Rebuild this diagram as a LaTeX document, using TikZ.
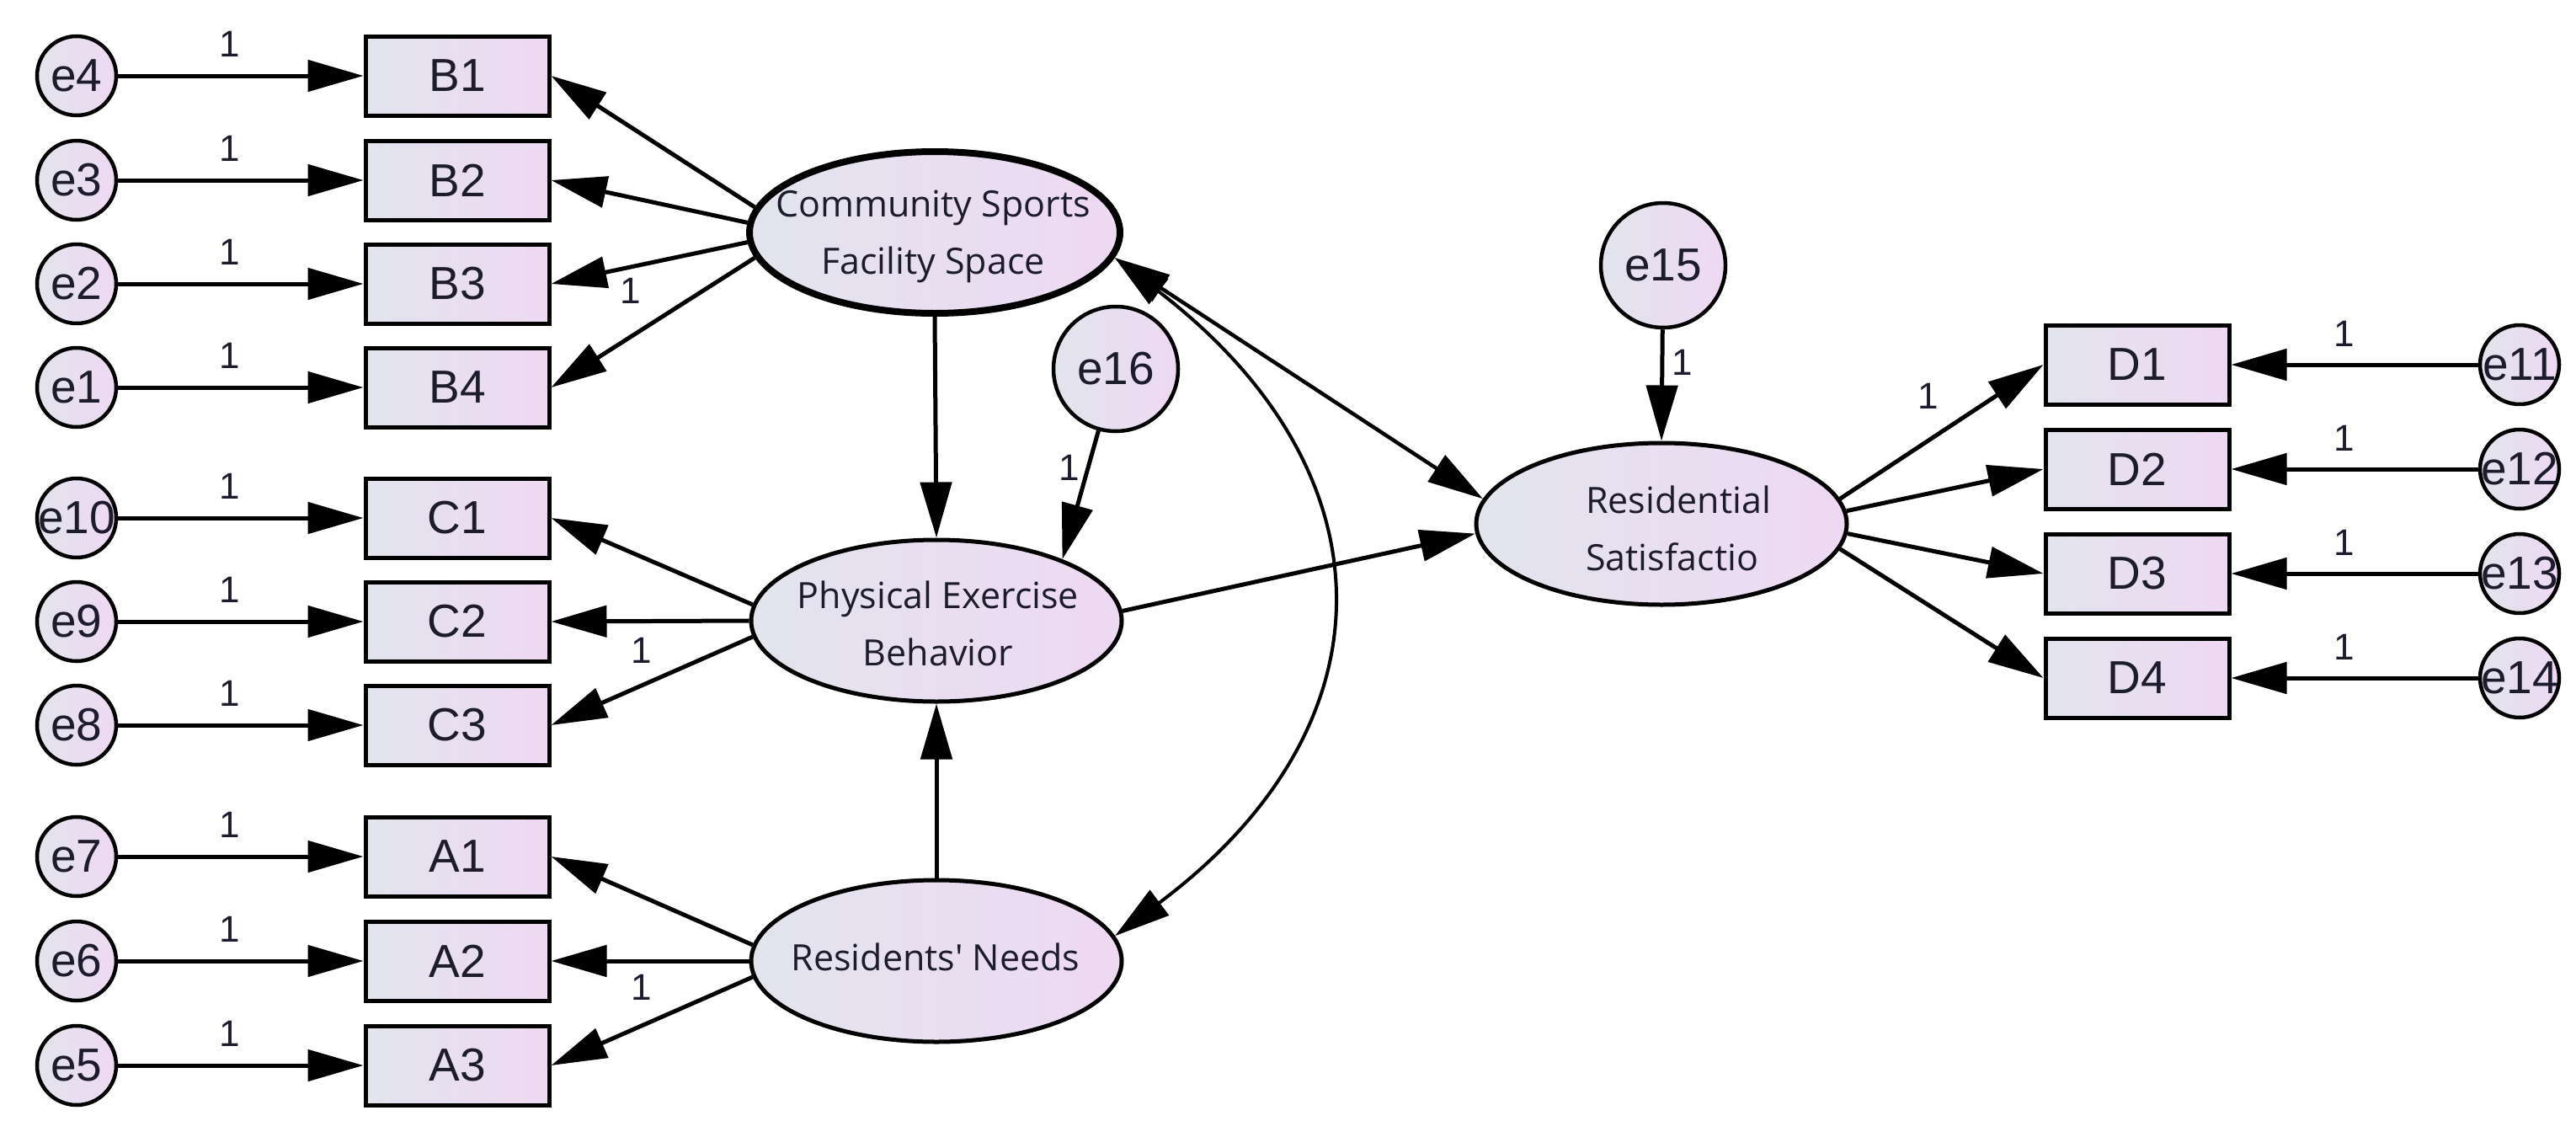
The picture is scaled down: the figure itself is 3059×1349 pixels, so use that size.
\documentclass[tikz,border=0pt]{standalone}
\usepackage{fontspec}
\setmainfont{Liberation Sans}
\newfontfamily\latfont{Open Sans}
\usetikzlibrary{arrows.meta,shapes.geometric,calc}
\definecolor{fillL}{RGB}{226,228,238}
\definecolor{fillR}{RGB}{238,217,242}
\definecolor{ink}{RGB}{28,28,45}
\begin{document}
\begin{tikzpicture}[x=1pt,y=-1pt,
  obs/.style={draw=black, line width=5pt, rectangle, minimum width=218pt, minimum height=94pt, inner sep=0pt, left color=fillL, right color=fillR, text=ink, font=\fontsize{55}{55}\selectfont},
  err/.style={draw=black, line width=4.5pt, ellipse, minimum width=94pt, minimum height=94pt, inner sep=0pt, left color=fillL, right color=fillR},
  bigerr/.style={err, minimum width=148pt, minimum height=148pt},
  lat/.style={draw=black, line width=5pt, ellipse, minimum width=440pt, minimum height=192pt, inner sep=0pt, left color=fillL, right color=fillR},
  elab/.style={text=ink, font=\fontsize{55}{55}\selectfont, inner sep=0pt},
  latlab/.style={text=ink, font=\latfont\fontsize{43}{68}\selectfont, align=center, inner sep=0pt},
  one/.style={text=ink, font=\fontsize{44}{44}\selectfont, inner sep=0pt},
  arr/.style={line width=5pt, -{Triangle[length=66pt,width=37pt]}},
  dbl/.style={line width=4.5pt, {Triangle[length=66pt,width=37pt]}-{Triangle[length=66pt,width=37pt]}},
]
\useasboundingbox (0,0) rectangle (3059,1349);

% latent variables
\node[lat, line width=8pt] (CS) at (1110,276) {};
\node[lat] (PE) at (1112,737) {};
\node[lat] (RN) at (1112,1141) {};
\node[lat] (RS) at (1973,622) {};
\node[latlab] (tCS) at (1108,281) {Community Sports\\Facility Space};
\node[latlab] (tPE) at (1114,740) {Physical Exercise\\Behavior};
\node[latlab] (tRN) at (1111,1136) {Residents' Needs};
\node[latlab, align=left, anchor=west] (tRS) at (1883,627) {Residential\\Satisfactio};

% observed boxes, left
\foreach \n/\y in {B1/90,B2/214,B3/337,B4/460,C1/615,C2/738,C3/861,A1/1017,A2/1141,A3/1265}{
  \node[obs] (\n) at (543,\y) {\n};
}
% observed boxes, right
\foreach \n/\y in {D1/433,D2/557,D3/681,D4/805}{
  \node[obs] (\n) at (2538,\y) {\n};
}
% error terms, left
\foreach \e/\y in {e4/90,e3/214,e2/337,e1/460,e10/615,e9/738,e8/861,e7/1017,e6/1141,e5/1265}{
  \node[err] (\e) at (91,\y) {};
  \node[elab] (t\e) at (91,\y) {\e};
}
% error terms, right
\foreach \e/\y in {e11/433,e12/557,e13/681,e14/805}{
  \node[err] (\e) at (2992,\y) {};
  \node[elab] (t\e) at (2992,\y) {\e};
}
\node[bigerr] (e16) at (1325,438) {};
\node[elab] (te16) at (1325,438) {e16};
\node[bigerr] (e15) at (1975,315) {};
\node[elab] (te15) at (1975,315) {e15};

% error -> indicator arrows with labels
\foreach \e/\n/\y in {e4/B1/90,e3/B2/214,e2/B3/337,e1/B4/460,e10/C1/615,e9/C2/738,e8/C3/861,e7/A1/1017,e6/A2/1141,e5/A3/1265}{
  \draw[arr] (\e) -- (\n);
  \node[one] (o\e) at (273,\y-38) {1};
}
\foreach \e/\n/\y in {e11/D1/433,e12/D2/557,e13/D3/681,e14/D4/805}{
  \draw[arr] (\e) -- (\n);
  \node[one] (o\e) at (2784,\y-37) {1};
}

% loadings
\draw[arr] (CS.172) -- (B1.east);
\draw[arr] (CS.177) -- (B2.east);
\draw[arr] (CS.183) -- (B3.east);
\draw[arr] (CS.188) -- (B4.east);
\draw[arr] (PE.175) -- (C1.east);
\draw[arr] (PE.180) -- (C2.east);
\draw[arr] (PE.185) -- (C3.east);
\draw[arr] (RN.175) -- (A1.east);
\draw[arr] (RN.180) -- (A2.east);
\draw[arr] (RN.185) -- (A3.east);
\draw[arr] (RS.8) -- (D1.west);
\draw[arr] (RS.4) -- (D2.west);
\draw[arr] (RS.-3) -- (D3.west);
\draw[arr] (RS.-8) -- (D4.west);
\node[one] (lB) at (749,345) {1};
\node[one] (lC) at (762,772) {1};
\node[one] (lA) at (762,1172) {1};
\node[one] (lD) at (2290,470) {1};

% structural paths
\draw[arr] (CS.south) -- (PE.north);
\draw[arr] (RN.north) -- (PE.south);
\draw[arr] (e16) -- (PE.26);
\node[one] (l16) at (1270,555) {1};
\draw[arr] (e15) -- (RS.north);
\node[one] (l15) at (1998,430) {1};
\draw[arr] (PE.3) -- (RS.183);
\draw[dbl] (CS.-8) -- (RS.172);
\draw[dbl, line width=4pt] (CS.-8) .. controls (1655,560) and (1660,860) .. (RN.8);
\end{tikzpicture}
\end{document}
